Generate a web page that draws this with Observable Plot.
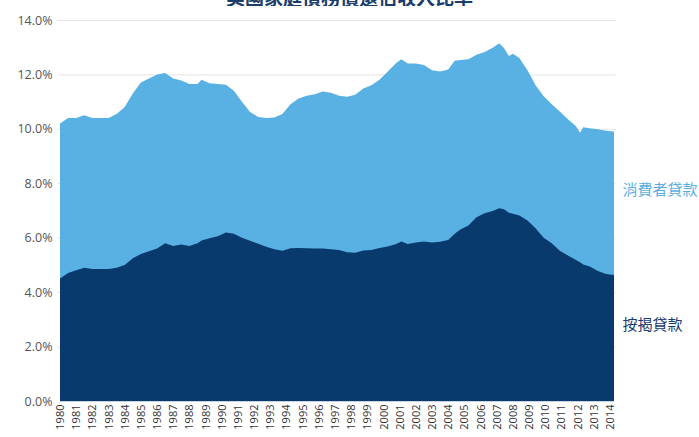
<!DOCTYPE html>
<html><head><meta charset="utf-8">
<script src="https://cdn.jsdelivr.net/npm/d3@7"></script>
<script src="https://cdn.jsdelivr.net/npm/@observablehq/plot@0.6"></script>
<style>
body{margin:0;background:#fff;}
#title{height:6px;overflow:hidden;position:relative;width:699px;}
#title span{position:absolute;left:0;right:0;top:-17px;text-align:center;font:bold 19px "Noto Sans CJK TC";color:#1b3d6b;}
</style></head><body>
<div id="title"><span>美國家庭債務償還佔收入比率</span></div>
<div id="chart"></div>
<script>
const years = [1980.0,1980.5,1981.0,1981.5,1982.0,1982.5,1983.0,1983.5,1984.0,1984.5,1985.0,1985.5,1986.0,1986.5,1987.0,1987.5,1988.0,1988.5,1988.75,1989.25,1989.75,1990.25,1990.75,1991.25,1991.75,1992.25,1992.75,1993.25,1993.75,1994.25,1994.75,1995.25,1995.75,1996.25,1996.75,1997.25,1997.75,1998.25,1998.75,1999.25,1999.75,2000.25,2000.75,2001.1,2001.5,2002.0,2002.5,2003.0,2003.5,2004.0,2004.4,2004.75,2005.25,2005.75,2006.25,2006.75,2007.15,2007.45,2007.75,2008.0,2008.4,2008.9,2009.4,2009.9,2010.4,2010.9,2011.4,2011.9,2012.15,2012.35,2012.75,2013.25,2013.75,2014.25];
const totalDSR = [10.2,10.4,10.4,10.5,10.4,10.4,10.4,10.55,10.8,11.3,11.7,11.85,12.0,12.05,11.85,11.78,11.65,11.65,11.8,11.68,11.65,11.62,11.4,11.0,10.62,10.44,10.4,10.42,10.55,10.9,11.12,11.22,11.27,11.37,11.33,11.22,11.18,11.25,11.48,11.6,11.8,12.1,12.4,12.56,12.4,12.4,12.35,12.15,12.11,12.18,12.5,12.53,12.56,12.72,12.82,12.98,13.15,12.97,12.68,12.76,12.6,12.15,11.6,11.2,10.9,10.64,10.35,10.1,9.86,10.06,10.02,9.99,9.93,9.9];
const mortgageDSR = [4.5,4.7,4.8,4.9,4.85,4.85,4.85,4.9,5.0,5.25,5.4,5.5,5.6,5.8,5.7,5.75,5.7,5.8,5.9,5.98,6.05,6.19,6.15,6.0,5.89,5.78,5.67,5.58,5.52,5.61,5.62,5.61,5.6,5.6,5.58,5.55,5.47,5.45,5.53,5.55,5.62,5.68,5.76,5.86,5.77,5.82,5.86,5.82,5.85,5.92,6.15,6.3,6.45,6.75,6.9,6.98,7.08,7.05,6.92,6.88,6.82,6.63,6.35,6.0,5.8,5.52,5.35,5.18,5.1,5.02,4.94,4.78,4.67,4.63];
const yTicks = [0,2,4,6,8,10,12,14];
const xTicks = d3.range(1980, 2015);
const seriesLabels = ["消費者貸款","按揭貸款"];
const labelValues = [7.76, 2.8];

const data = years.map((y,i)=>({year:y,total:totalDSR[i],mortgage:mortgageDSR[i]}));
const labels = seriesLabels.map((t,i)=>({text:t,y:labelValues[i],x:2014.25}));

const chart = Plot.plot({
  width:699, height:431,
  marginTop:14, marginBottom:36, marginLeft:60, marginRight:85,
  style:{fontFamily:"Open Sans", background:"#fff"},
  x:{domain:[1980,2014.25], ticks:xTicks, tickFormat:d=>String(d), tickRotate:-90, tickSize:0, tickPadding:3, label:null},
  y:{domain:[0,14], ticks:yTicks, tickFormat:d=>d.toFixed(1)+"%", tickSize:0, tickPadding:8, label:null},
  marks:[
    Plot.ruleY(yTicks.filter(d=>d>0), {stroke:"#e4e4e4", x1:1979.85, x2:2014.35}),
    Plot.areaY(data,{x:"year",y:"total",fill:"#58B0E3"}),
    Plot.areaY(data,{x:"year",y:"mortgage",fill:"#083A6D"}),
    Plot.ruleY([0],{stroke:"#c8d3de", strokeWidth:1}),
    Plot.axisY({ticks:yTicks, tickFormat:d=>d.toFixed(1)+"%", tickSize:0, tickPadding:8, fontSize:12.5, fill:"#555", label:null}),
    Plot.axisX({ticks:xTicks, tickFormat:d=>String(d), tickRotate:-90, tickSize:0, tickPadding:3, fontSize:11, fill:"#333", label:null}),
    Plot.text(labels,{x:"x",y:"y",text:"text",textAnchor:"start",dx:8,fontSize:15,fontFamily:"Noto Sans CJK TC",fill:(d,i)=>i===0?"#5BAEE0":"#1b3d6b"})
  ]
});
document.getElementById("chart").appendChild(chart);
</script>
</body></html>
